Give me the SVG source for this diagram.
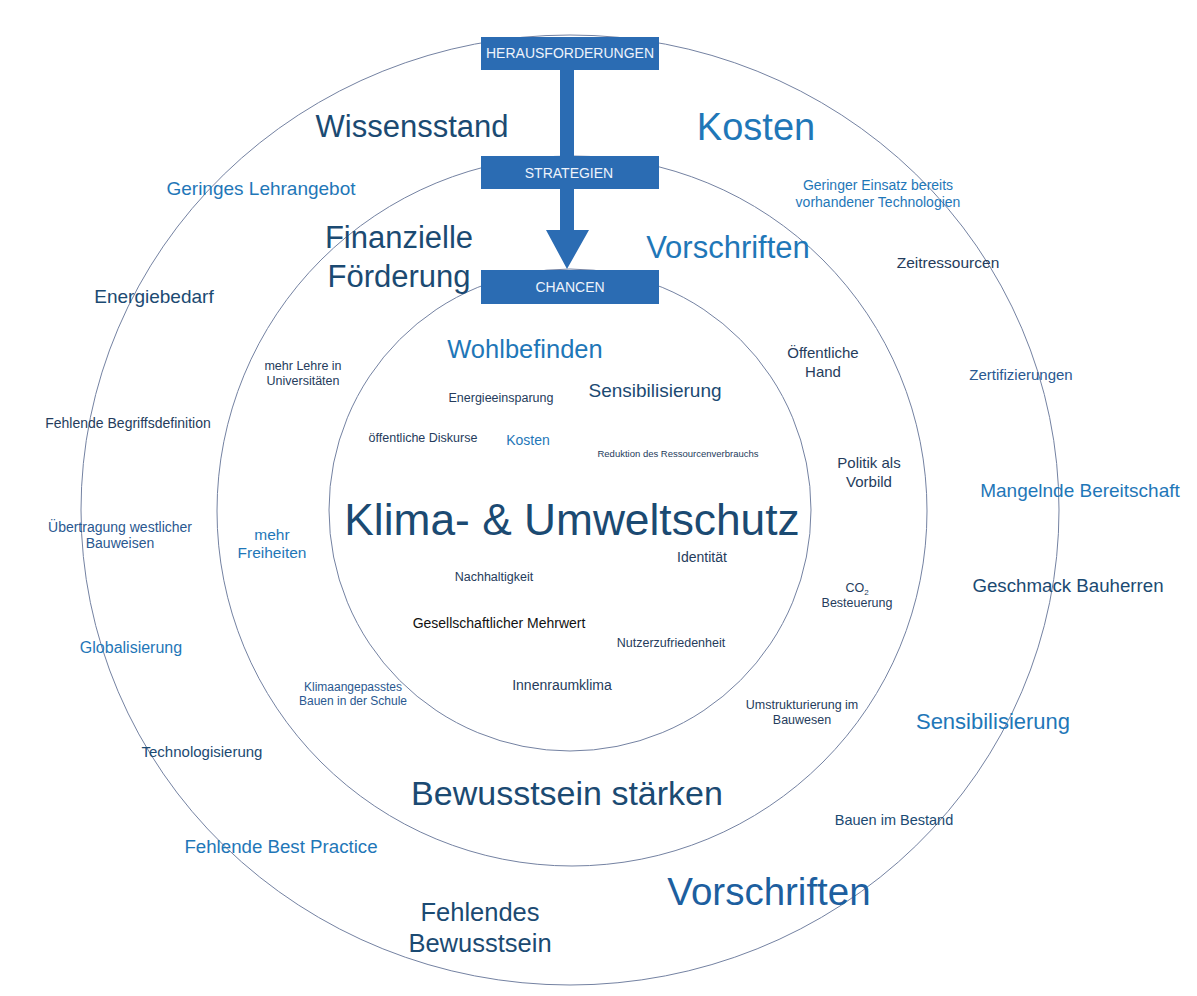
<svg xmlns="http://www.w3.org/2000/svg" width="1197" height="996" viewBox="0 0 1197 996">
<style>
text{font-family:"Liberation Sans",Arial,sans-serif;text-anchor:middle}
.ring{fill:none;stroke:#7482a2;stroke-width:1}
.box{fill:#2b6cb3}
.bt{fill:#eef3fb;font-size:14px}
.d{fill:#1b4a72}
.s{fill:#253c5c}
.b{fill:#1f77b8}
.m{fill:#2a5890}
.k{fill:#111111}
</style>
<rect width="1197" height="996" fill="#ffffff"/>
<g id="rings">
<ellipse class="ring" cx="570" cy="510" rx="489" ry="475"/>
<circle class="ring" cx="572" cy="511" r="355"/>
<circle class="ring" cx="570" cy="510" r="241"/>
</g>
<g id="connectors">
<rect x="560" y="68" width="14" height="90" fill="#2b6cb3"/>
<path d="M560 188 L574 188 L574 230 L589 230 L567 269 L546 230 L560 230 Z" fill="#2b6cb3"/>
</g>
<g id="herausforderungen"><rect class="box" x="481" y="37" width="178" height="33"/><text class="bt" x="570" y="58">HERAUSFORDERUNGEN</text></g>
<g id="strategien"><rect class="box" x="481" y="156" width="178" height="33"/><text class="bt" x="569" y="178">STRATEGIEN</text></g>
<g id="chancen"><rect class="box" x="481" y="270" width="178" height="34"/><text class="bt" x="570" y="292">CHANCEN</text></g>

<g id="wissensstand"><text class="d" x="412" y="137" font-size="31">Wissensstand</text></g>
<g id="kosten-outer"><text class="b" x="756" y="140" font-size="38">Kosten</text></g>
<g id="geringes-lehrangebot"><text class="b" x="261" y="195" font-size="19">Geringes Lehrangebot</text></g>
<g id="geringer-einsatz"><text class="b" x="878" y="190" font-size="14">Geringer Einsatz bereits</text><text class="b" x="878" y="207" font-size="14">vorhandener Technologien</text></g>
<g id="finanzielle-foerderung"><text class="d" x="399" y="248" font-size="31">Finanzielle</text><text class="d" x="399" y="287" font-size="31">Förderung</text></g>
<g id="vorschriften-mid"><text class="b" x="728" y="258" font-size="31">Vorschriften</text></g>
<g id="zeitressourcen"><text class="s" x="948" y="268" font-size="15.5">Zeitressourcen</text></g>
<g id="energiebedarf"><text class="d" x="154" y="303" font-size="19">Energiebedarf</text></g>
<g id="wohlbefinden"><text class="b" x="525" y="358" font-size="25.5">Wohlbefinden</text></g>
<g id="oeffentliche-hand"><text class="s" x="823" y="358" font-size="15">Öffentliche</text><text class="s" x="823" y="377" font-size="15">Hand</text></g>
<g id="mehr-lehre"><text class="s" x="303" y="370" font-size="12.5">mehr Lehre in</text><text class="s" x="303" y="385" font-size="12.5">Universitäten</text></g>
<g id="energieeinsparung"><text class="s" x="501" y="402" font-size="12.5">Energieeinsparung</text></g>
<g id="sensibilisierung-inner"><text class="d" x="655" y="397" font-size="19">Sensibilisierung</text></g>
<g id="oeffentliche-diskurse"><text class="s" x="423" y="442" font-size="12.5">öffentliche Diskurse</text></g>
<g id="kosten-inner"><text class="b" x="528" y="445" font-size="14">Kosten</text></g>
<g id="reduktion"><text class="s" x="678" y="457" font-size="9.5">Reduktion des Ressourcenverbrauchs</text></g>
<g id="politik"><text class="s" x="869" y="468" font-size="15">Politik als</text><text class="s" x="869" y="487" font-size="15">Vorbild</text></g>
<g id="zertifizierungen"><text class="m" x="1021" y="380" font-size="15">Zertifizierungen</text></g>
<g id="begriffsdefinition"><text class="s" x="128" y="428" font-size="14">Fehlende Begriffsdefinition</text></g>
<g id="mangelnde-bereitschaft"><text class="b" x="1080" y="497" font-size="19">Mangelnde Bereitschaft</text></g>
<g id="klima-umweltschutz"><text class="d" x="572" y="535" font-size="44.3">Klima- &amp; Umweltschutz</text></g>
<g id="uebertragung"><text class="m" x="120" y="532" font-size="14">Übertragung westlicher</text><text class="m" x="120" y="548" font-size="14">Bauweisen</text></g>
<g id="mehr-freiheiten"><text class="b" x="272" y="540" font-size="15.5">mehr</text><text class="b" x="272" y="558" font-size="15.5">Freiheiten</text></g>
<g id="identitaet"><text class="s" x="702" y="562" font-size="14">Identität</text></g>
<g id="co2"><text class="s" x="857" y="592" font-size="12.5">CO<tspan font-size="8" dy="3">2</tspan></text><text class="s" x="857" y="607" font-size="12.5">Besteuerung</text></g>
<g id="geschmack"><text class="d" x="1068" y="592" font-size="18.7">Geschmack Bauherren</text></g>
<g id="nachhaltigkeit"><text class="s" x="494" y="581" font-size="12.5">Nachhaltigkeit</text></g>
<g id="mehrwert"><text class="k" x="499" y="628" font-size="14">Gesellschaftlicher Mehrwert</text></g>
<g id="nutzerzufriedenheit"><text class="s" x="671" y="647" font-size="12.5">Nutzerzufriedenheit</text></g>
<g id="globalisierung"><text class="b" x="131" y="653" font-size="16">Globalisierung</text></g>
<g id="klimaangepasst"><text class="m" x="353" y="691" font-size="12">Klimaangepasstes</text><text class="m" x="353" y="705" font-size="12">Bauen in der Schule</text></g>
<g id="innenraumklima"><text class="s" x="562" y="690" font-size="14">Innenraumklima</text></g>
<g id="umstrukturierung"><text class="s" x="802" y="709" font-size="12.5">Umstrukturierung im</text><text class="s" x="802" y="724" font-size="12.5">Bauwesen</text></g>
<g id="sensibilisierung-outer"><text class="b" x="993" y="729" font-size="22">Sensibilisierung</text></g>
<g id="technologisierung"><text class="d" x="202" y="757" font-size="15">Technologisierung</text></g>
<g id="bewusstsein-staerken"><text class="d" x="567" y="805" font-size="34">Bewusstsein stärken</text></g>
<g id="bauen-bestand"><text class="d" x="894" y="825" font-size="14.5">Bauen im Bestand</text></g>
<g id="best-practice"><text class="b" x="281" y="853" font-size="18.7">Fehlende Best Practice</text></g>
<g id="vorschriften-outer"><text x="769" y="905" font-size="38.5" fill="#1d5f9f">Vorschriften</text></g>
<g id="fehlendes-bewusstsein"><text class="d" x="480" y="921" font-size="25.5">Fehlendes</text><text class="d" x="480" y="952" font-size="25.5">Bewusstsein</text></g>
</svg>
